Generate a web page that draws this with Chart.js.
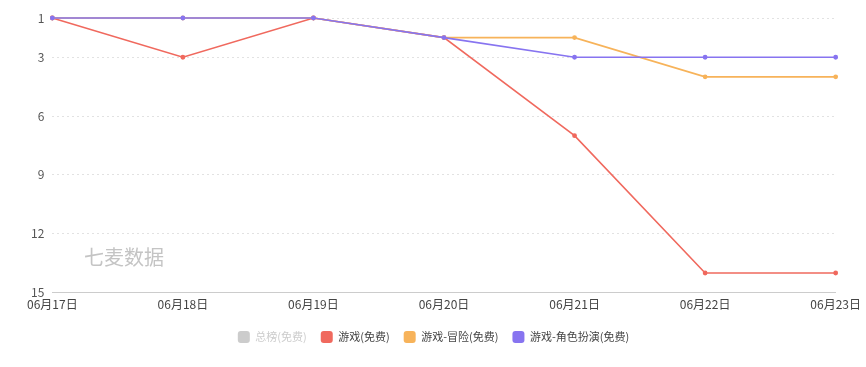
<!DOCTYPE html>
<html>
<head>
<meta charset="utf-8">
<script src="https://cdn.jsdelivr.net/npm/chart.js@4"></script>
<style>
  html, body { margin: 0; padding: 0; background: #fff; }
  #wrap { width: 866px; height: 367px; }
</style>
</head>
<body>
<div id="wrap"><canvas id="rankChart"></canvas></div>
<script>
'use strict';

// dates on the x axis
var dates = ['06月17日', '06月18日', '06月19日', '06月20日', '06月21日', '06月22日', '06月23日'];
// rank values per list (lower is better)
var totalRank = [null, null, null, null, null, null, null];
var gameRank = [1, 3, 1, 2, 7, 14, 14];
var adventureRank = [1, 1, 1, 2, 2, 4, 4];
var roleplayRank = [1, 1, 1, 2, 3, 3, 3];
var yTicks = [1, 3, 6, 9, 12, 15];

var seriesNames = ['总榜(免费)', '游戏(免费)', '游戏-冒险(免费)', '游戏-角色扮演(免费)'];
var seriesColors = ['#cccccc', '#f0695e', '#f7b35a', '#8774f0'];

function makeSet(i, values, hidden) {
    return {
        label: seriesNames[i],
        data: values,
        borderColor: seriesColors[i],
        backgroundColor: seriesColors[i],
        borderWidth: 1.6,
        pointRadius: 1.6,
        pointHoverRadius: 3,
        tension: 0,
        clip: false,
        order: 3 - i, // later series drawn on top
        hidden: hidden
    };
}

// watermark text drawn inside the plot
const watermark = {
    id: 'watermark',
    beforeDatasetsDraw(chart) {
        const ctx = chart.ctx;
        ctx.save();
        ctx.font = '20px "Noto Sans CJK SC", sans-serif';
        ctx.fillStyle = '#c4c4c4';
        ctx.textBaseline = 'middle';
        ctx.fillText('七麦数据', 84, 257);
        ctx.restore();
    }
};

const config = {
    type: 'line',
    data: {
        labels: dates,
        datasets: [
            makeSet(0, totalRank, true),
            makeSet(1, gameRank, false),
            makeSet(2, adventureRank, false),
            makeSet(3, roleplayRank, false)
        ]
    },
    options: {
        responsive: true,
        maintainAspectRatio: false,
        animation: false,
        layout: { padding: { left: 23, right: 22, top: 18, bottom: 14 } },
        plugins: {
            legend: {
                position: 'bottom',
                labels: {
                    boxWidth: 12,
                    boxHeight: 12,
                    padding: 14,
                    font: { size: 11, family: '"Noto Sans CJK SC", sans-serif' },
                    color: '#444',
                    generateLabels(chart) {
                        return chart.data.datasets.map(function (ds, i) {
                            var off = !chart.isDatasetVisible(i);
                            return {
                                text: ds.label,
                                fillStyle: off ? '#cccccc' : ds.borderColor,
                                strokeStyle: off ? '#cccccc' : ds.borderColor,
                                fontColor: off ? '#cccccc' : '#444',
                                lineWidth: 0,
                                borderRadius: 3,
                                hidden: false,
                                datasetIndex: i
                            };
                        });
                    }
                }
            },
            tooltip: { enabled: false }
        },
        scales: {
            x: {
                offset: false,
                grid: { display: false, drawTicks: false },
                border: { display: true, color: '#cccccc' },
                ticks: {
                    color: '#444',
                    padding: 5,
                    maxRotation: 0,
                    autoSkip: false,
                    font: { size: 12, family: '"Noto Sans CJK SC", sans-serif' }
                }
            },
            y: {
                reverse: true,
                min: 1,
                max: 15,
                afterBuildTicks(axis) {
                    axis.ticks = yTicks.map(function (v) { return { value: v }; });
                },
                grid: { color: '#e2e2e2', drawTicks: false },
                border: { display: false, dash: [2, 3] },
                ticks: {
                    color: '#555',
                    padding: 8,
                    font: { size: 12, family: '"Noto Sans CJK SC", sans-serif' }
                }
            }
        }
    },
    plugins: [watermark]
};

const rankChart = new Chart(document.getElementById('rankChart'), config);
</script>
</body>
</html>
